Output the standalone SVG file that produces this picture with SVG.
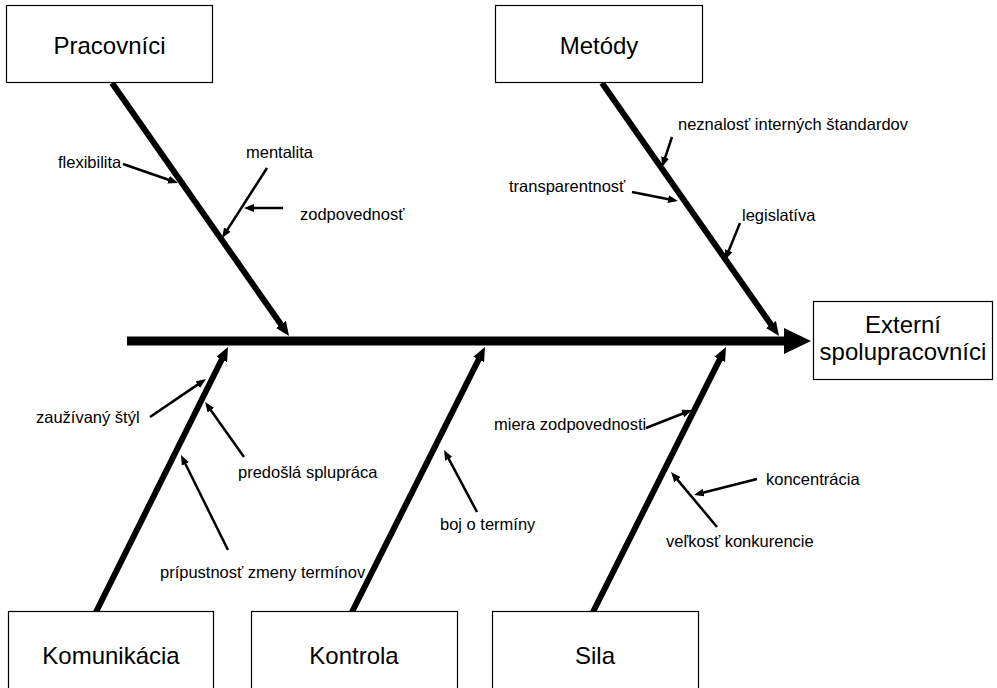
<svg xmlns="http://www.w3.org/2000/svg" width="997" height="688" viewBox="0 0 997 688">
<style>
.box{fill:#fff;stroke:#000;stroke-width:1.2}
.title{font-family:"Liberation Sans",Arial,sans-serif;font-size:24px;fill:#000;text-anchor:middle}
.lbl{font-family:"Liberation Sans",Arial,sans-serif;font-size:16.5px;fill:#000}
.bone{stroke:#000;stroke-width:6;fill:none}
.sub{stroke:#000;stroke-width:2.5;fill:none}
</style>
<defs>
<marker id="bh" viewBox="0 0 14 12" refX="4" refY="6" markerWidth="14" markerHeight="12" markerUnits="userSpaceOnUse" orient="auto"><path d="M0,0 L14,6 L0,12 z" fill="#000"/></marker>
<marker id="sh" viewBox="0 0 10 8" refX="3" refY="4" markerWidth="10" markerHeight="8" markerUnits="userSpaceOnUse" orient="auto"><path d="M0,0 L10,4 L0,8 z" fill="#000"/></marker>
</defs>
<rect width="997" height="688" fill="#fff"/>
<g id="connectors">
<line x1="127" y1="341" x2="786" y2="341" stroke="#000" stroke-width="9"/>
<polygon points="784,328 811,341 784,354" fill="#000"/>
<line class="bone" x1="112" y1="83" x2="283.3" y2="327.8" marker-end="url(#bh)"/>
<line class="bone" x1="602" y1="83" x2="773.3" y2="327.8" marker-end="url(#bh)"/>
<line class="bone" x1="96" y1="612" x2="223.5" y2="356" marker-end="url(#bh)"/>
<line class="bone" x1="352" y1="612" x2="480.5" y2="355.9" marker-end="url(#bh)"/>
<line class="bone" x1="593" y1="612" x2="721.5" y2="355.9" marker-end="url(#bh)"/>
<line class="sub" x1="123" y1="164" x2="171.4" y2="180.7" marker-end="url(#sh)"/>
<line class="sub" x1="267" y1="168" x2="225.8" y2="232.1" marker-end="url(#sh)"/>
<line class="sub" x1="283" y1="208" x2="251" y2="208" marker-end="url(#sh)"/>
<line class="sub" x1="672" y1="137" x2="664.2" y2="160.4" marker-end="url(#sh)"/>
<line class="sub" x1="632" y1="192" x2="671.1" y2="199.7" marker-end="url(#sh)"/>
<line class="sub" x1="740" y1="223" x2="727.6" y2="253.5" marker-end="url(#sh)"/>
<line class="sub" x1="150" y1="417" x2="200.2" y2="382.9" marker-end="url(#sh)"/>
<line class="sub" x1="244" y1="457" x2="209.1" y2="407.7" marker-end="url(#sh)"/>
<line class="sub" x1="228" y1="550" x2="184.1" y2="461.3" marker-end="url(#sh)"/>
<line class="sub" x1="646" y1="428" x2="685.5" y2="412.5" marker-end="url(#sh)"/>
<line class="sub" x1="477" y1="512" x2="447.3" y2="456.2" marker-end="url(#sh)"/>
<line class="sub" x1="717" y1="527" x2="675.5" y2="477.4" marker-end="url(#sh)"/>
<line class="sub" x1="757" y1="479" x2="700.8" y2="493.3" marker-end="url(#sh)"/>
</g>
<g id="labels">
<text class="lbl" x="58" y="168">flexibilita</text>
<text class="lbl" x="246" y="158">mentalita</text>
<text class="lbl" x="300" y="220">zodpovednosť</text>
<text class="lbl" x="678" y="130">neznalosť interných štandardov</text>
<text class="lbl" x="509" y="192">transparentnosť</text>
<text class="lbl" x="742" y="221">legislatíva</text>
<text class="lbl" x="36" y="423">zaužívaný štýl</text>
<text class="lbl" x="238" y="478">predošlá splupráca</text>
<text class="lbl" x="160" y="578">prípustnosť zmeny termínov</text>
<text class="lbl" x="494" y="430">miera zodpovednosti</text>
<text class="lbl" x="440" y="530">boj o termíny</text>
<text class="lbl" x="766" y="485">koncentrácia</text>
<text class="lbl" x="666" y="547">veľkosť konkurencie</text>
</g>
<g id="pracovnici"><rect class="box" x="6.5" y="5.5" width="206" height="77"/><text class="title" x="109.5" y="54">Pracovníci</text></g>
<g id="metody"><rect class="box" x="495.5" y="5.5" width="207" height="77"/><text class="title" x="599" y="54">Metódy</text></g>
<g id="externi"><rect class="box" x="813.5" y="301.5" width="179" height="78"/><text class="title" x="903" y="333">Externí</text><text class="title" x="903" y="360">spolupracovníci</text></g>
<g id="komunikacia"><rect class="box" x="8.5" y="611.5" width="205" height="90"/><text class="title" x="111" y="664">Komunikácia</text></g>
<g id="kontrola"><rect class="box" x="251.5" y="611.5" width="206" height="90"/><text class="title" x="354" y="664">Kontrola</text></g>
<g id="sila"><rect class="box" x="492.5" y="611.5" width="206" height="90"/><text class="title" x="595" y="664">Sila</text></g>
</svg>
